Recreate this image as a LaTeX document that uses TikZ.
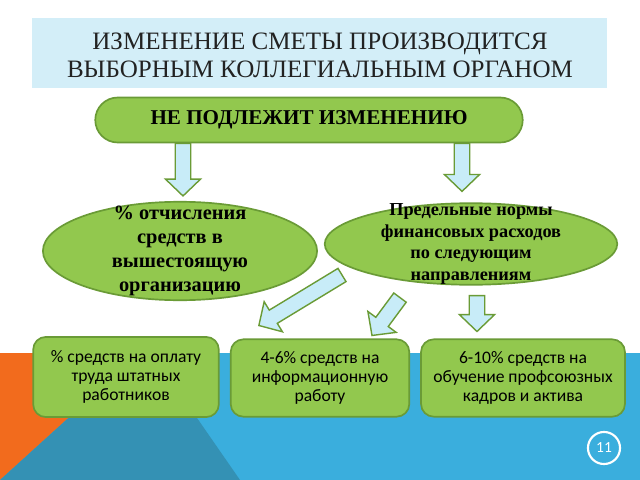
\documentclass[tikz,border=0pt]{standalone}
\usepackage{fontspec}
\setmainfont{Liberation Serif}
\newfontfamily\boxfont{Carlito}
\usetikzlibrary{positioning,calc,shapes.geometric}

\definecolor{leafgreen}{HTML}{92C84E}
\definecolor{leafedge}{HTML}{6A9B36}
\definecolor{skyband}{HTML}{D3EEF8}
\definecolor{seablue}{HTML}{3AAEDD}
\definecolor{deepblue}{HTML}{3491B4}
\definecolor{tangerine}{HTML}{F26B1D}
\definecolor{paleblue}{HTML}{C8ECF8}
\definecolor{inkgray}{HTML}{222222}

\tikzset{
  pill/.style={draw=leafedge, line width=1.2pt, fill=leafgreen, rounded corners=16pt,
    minimum width=304pt, minimum height=32pt,
    font=\rmfamily\bfseries\fontsize{15}{16}\selectfont},
  oval/.style={ellipse, draw=leafedge, line width=1.2pt, fill=leafgreen, inner sep=-9pt,
    align=center},
  stepbox/.style={draw=leafedge, line width=1.2pt, fill=leafgreen, rounded corners=9pt,
    minimum height=55pt, align=center, inner sep=2pt,
    font=\boxfont\fontsize{12.5}{13.5}\selectfont},
  flowarrow/.style={draw=leafedge, line width=1pt, fill=paleblue, line join=miter}
}

% fat block arrow from #1 (tail) to #2 (tip)
\newcommand\fatarrow[2]{%
  \path ($(#2)!12pt!(#1)$) coordinate (h);
  \draw[flowarrow] ($(#1)!5.5pt!90:(#2)$) -- ($(h)!5.5pt!90:(#2)$) -- ($(h)!12.5pt!90:(#2)$)
    -- (#2) -- ($(h)!12.5pt!-90:(#2)$) -- ($(h)!5.5pt!-90:(#2)$) -- ($(#1)!5.5pt!-90:(#2)$) -- cycle;
}

\begin{document}
\begin{tikzpicture}[x=0.025cm, y=-0.025cm]
    \useasboundingbox (0,0) rectangle (640,480);
    \fill[white] (0,0) rectangle (640,480);
    % background
    \fill[seablue] (0,353) rectangle (640,480);
    \fill[tangerine] (0,353) -- (140,353) -- (0,480) -- cycle;
    \fill[deepblue] (0,480) -- (97,392) -- (179,392) -- (240,480) -- cycle;
    \fill[skyband] (32,18) rectangle (607,88);
    \node[align=center, text=inkgray, font=\rmfamily\fontsize{17.8}{20}\selectfont] (title) at (320,55)
      {ИЗМЕНЕНИЕ СМЕТЫ ПРОИЗВОДИТСЯ\\ВЫБОРНЫМ КОЛЛЕГИАЛЬНЫМ ОРГАНОМ};

    % nodes
    \node[pill] (top) at (309,120) {НЕ ПОДЛЕЖИТ ИЗМЕНЕНИЮ};
    \node[oval, minimum width=195pt, minimum height=70pt,
      font=\rmfamily\bfseries\fontsize{14.5}{17}\selectfont] (lft) at (180,251)
      {\% отчисления\\средств в\\вышестоящую\\организацию};
    \node[oval, minimum width=208pt, minimum height=58pt,
      font=\rmfamily\bfseries\fontsize{13}{15.5}\selectfont] (rgt) at (471,244)
      {Предельные нормы\\финансовых расходов\\по следующим\\направлениям};
    \node[stepbox, minimum width=132pt, minimum height=57pt] (b1) at (126,377)
      {\% средств на оплату\\труда штатных\\работников};
    \node[stepbox, minimum width=127pt] (b2) at (320,378)
      {4-6\% средств на\\информационную\\работу};
    \node[stepbox, minimum width=145pt] (b3) at (523,378)
      {6-10\% средств на\\обучение профсоюзных\\кадров и актива};
    \node[circle, draw=white, line width=1.5pt, minimum size=22.8pt, text=white,
      font=\boxfont\fontsize{11}{11}\selectfont] (page) at (604,448) {11};

    % arrows
    \coordinate (t1) at ([shift={(-126,0)}]top.south);
    \coordinate (e1) at ([shift={(3,-5)}]lft.north);
    \coordinate (t2) at ([shift={(153,0)}]top.south);
    \coordinate (e2) at ([shift={(-9,-11)}]rgt.north);
    \coordinate (t3) at ([shift={(-129,31)}]rgt.center);
    \coordinate (e3) at ([shift={(29,-13)}]b2.north west);
    \coordinate (t4) at ([shift={(-71,12)}]rgt.south);
    \coordinate (e4) at ([shift={(52,-3)}]b2.north);
    \coordinate (t5) at ([shift={(6,10)}]rgt.south);
    \coordinate (e5) at ([shift={(-46,-7)}]b3.north);
    \fatarrow{t1}{e1}
    \fatarrow{t2}{e2}
    \fatarrow{t3}{e3}
    \fatarrow{t4}{e4}
    \fatarrow{t5}{e5}
\end{tikzpicture}
\end{document}
